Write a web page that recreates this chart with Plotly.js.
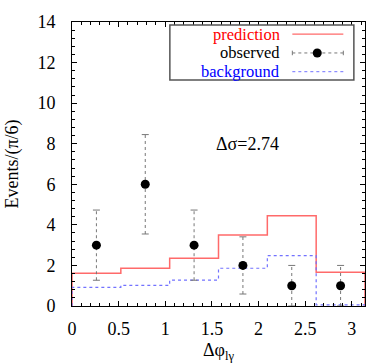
<!DOCTYPE html>
<html>
<head>
<meta charset="utf-8">
<script src="https://cdn.plot.ly/plotly-3.0.1.min.js"></script>
<style>
html,body{margin:0;padding:0;background:#fff;}
#graph{width:374px;height:363px;}
</style>
</head>
<body>
<div id="graph"></div>
<script>
// bins of pi/6 on [0, pi]
let nbins = 6;
let binw = Math.PI/6;

let prediction = [1.61, 1.86, 2.35, 3.5, 4.45, 1.66];
let background = [0.92, 1.02, 1.28, 1.86, 2.48, 0.06];
let observed = [3, 6, 3, 2, 1, 1];
let obsErr = [1.73, 2.45, 1.73, 1.41, 1, 1];

let deltaSigma = '\u0394\u03c3=2.74';

// step outline from bin values
function steps(vals){
    let sx = [0];
    let sy = [0];
    for(let i=0;i<nbins;i++){
        sx.push(i*binw, (i+1)*binw);
        sy.push(vals[i], vals[i]);
    }
    sx.push(nbins*binw);
    sy.push(0);
    return {x:sx, y:sy};
}

let predStep = steps(prediction);
let bkgStep = steps(background);

let centers = [];
for(let i=0;i<nbins;i++){
    centers.push((i+0.5)*binw);
}

// dotted error bars
let ex = [], ey = [], cx = [], cy = [];
for(let i=0;i<nbins;i++){
    let lo = Math.max(0, observed[i]-obsErr[i]);
    let hi = observed[i]+obsErr[i];
    ex.push(centers[i], centers[i], null);
    ey.push(lo, hi, null);
    cx.push(centers[i], centers[i]);
    cy.push(lo, hi);
}

let errColor = '#777777';
let predColor = '#ff6a6a';
let bkgColor = '#7272ff';
let serif = 'Liberation Serif';

let traces = [
{
x:predStep.x, y:predStep.y,
mode:'lines', name:'prediction',
line:{color:predColor, width:1.5},
hoverinfo:'skip'
},
{
x:bkgStep.x, y:bkgStep.y,
mode:'lines', name:'background',
line:{color:bkgColor, width:1.2, dash:'dot'},
hoverinfo:'skip'
},
{
x:ex, y:ey,
mode:'lines', name:'err',
line:{color:errColor, width:1, dash:'dot'},
hoverinfo:'skip'
},
{
x:cx, y:cy,
mode:'markers', name:'caps',
marker:{symbol:'line-ew', size:5, color:errColor, line:{color:errColor, width:1}},
hoverinfo:'skip'
},
{
x:centers, y:observed,
mode:'markers', name:'observed',
marker:{symbol:'circle', size:9, color:'#000'}
}
];

// legend drawn by hand: text right, sample on the right side
let lx0 = 0.334, lx1 = 0.962, ly0 = 0.796, ly1 = 0.989;
let rows = [0.957, 0.891, 0.825];
let textX = 0.712;
let sx0 = 0.752, sx1 = 0.926, sdot = 0.837;

let shapes = [
{type:'rect', xref:'paper', yref:'paper', x0:lx0, x1:lx1, y0:ly0, y1:ly1,
 line:{color:'#555', width:1.5}, fillcolor:'#fff', layer:'above'},
{type:'line', xref:'paper', yref:'paper', x0:sx0, x1:sx1, y0:rows[0], y1:rows[0],
 line:{color:predColor, width:1.3}},
{type:'line', xref:'paper', yref:'paper', x0:sx0, x1:sx1, y0:rows[1], y1:rows[1],
 line:{color:errColor, width:1, dash:'dot'}},
{type:'line', xref:'paper', yref:'paper', x0:sx0, x1:sx0, y0:rows[1]-0.008, y1:rows[1]+0.008,
 line:{color:errColor, width:1}},
{type:'line', xref:'paper', yref:'paper', x0:sx1, x1:sx1, y0:rows[1]-0.008, y1:rows[1]+0.008,
 line:{color:errColor, width:1}},
{type:'circle', xref:'paper', yref:'paper', xsizemode:'pixel', ysizemode:'pixel',
 xanchor:sdot, yanchor:rows[1], x0:-4.5, x1:4.5, y0:-4.5, y1:4.5,
 fillcolor:'#000', line:{color:'#000', width:0}},
{type:'line', xref:'paper', yref:'paper', x0:sx0, x1:sx1, y0:rows[2], y1:rows[2],
 line:{color:bkgColor, width:1, dash:'dot'}}
];

let legendNames = ['prediction', 'observed', 'background'];
let legendColors = ['#ff0000', '#000000', '#0000ff'];

let annotations = [];
for(let i=0;i<3;i++){
    annotations.push({
        xref:'paper', yref:'paper', x:textX, y:rows[i],
        xanchor:'right', yanchor:'middle', showarrow:false,
        text:legendNames[i], borderpad:0,
        font:{family:serif, size:16.5, color:legendColors[i]}
    });
}
annotations.push({
    xref:'x', yref:'y', x:1.88, y:8.0,
    xanchor:'center', yanchor:'middle', showarrow:false,
    text:deltaSigma,
    font:{family:serif, size:18, color:'#000'}
});

let layout = {
width:374, height:363,
margin:{l:72, r:9, t:22, b:57},
paper_bgcolor:'#fff',
plot_bgcolor:'#fff',
showlegend:false,
font:{family:serif, size:18, color:'#000'},
xaxis:{
range:[0, Math.PI],
tick0:0, dtick:0.5,
ticks:'inside', ticklen:5, tickcolor:'#000',
minor:{dtick:0.1, ticks:'inside', ticklen:3, tickcolor:'#000'},
showline:true, linecolor:'#000', linewidth:1, mirror:'ticks',
showgrid:false, zeroline:false,
ticklabelstandoff:6,
title:{text:'\u0394\u03c6<sub>l\u03b3</sub>', standoff:6, font:{size:18}}
},
yaxis:{
range:[0, 14],
tick0:0, dtick:2,
ticks:'inside', ticklen:5, tickcolor:'#000',
minor:{dtick:0.4, ticks:'inside', ticklen:3, tickcolor:'#000'},
showline:true, linecolor:'#000', linewidth:1, mirror:'ticks',
showgrid:false, zeroline:false,
ticklabelstandoff:12,
title:{text:'Events/(\u03c0/6)', standoff:14, font:{size:18}}
},
shapes:shapes,
annotations:annotations
};

Plotly.newPlot('graph', traces, layout, {displayModeBar:false, staticPlot:true});
</script>
</body>
</html>
